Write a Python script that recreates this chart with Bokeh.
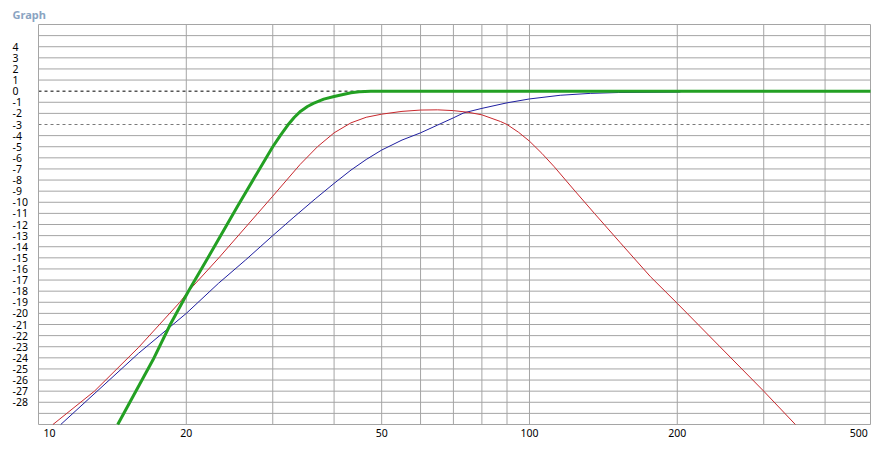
import math
from bokeh.plotting import figure
from bokeh.models import Range1d, ColumnDataSource
from bokeh.core.properties import value
from bokeh.embed import file_html
from bokeh.resources import INLINE

# ---- data (frequency in Hz, level in dB) ----
green_f = [14.5, 17.1, 18.55, 20.2, 22.0, 25.4, 30.0, 31.1, 32.2, 33.2, 34.2, 35.3, 36.3, 38.1, 40.0, 43.3,
           45.0, 47.5, 495.0]
green_db = [-30.0, -24.2, -21.0, -18.0, -15.2, -10.4, -5.0, -3.98, -3.05, -2.35, -1.8, -1.38, -1.1, -0.72, -0.48,
            -0.15, -0.06, 0.0, 0.0]

red_f = [10.7, 13.0, 16.0, 19.4, 20.2, 23.3, 30.0, 34.1, 37.0, 40.0, 43.3, 46.5, 50.0, 55.0, 60.0, 65.0, 70.0,
         75.0, 80.0, 87.3, 90.0, 95.0, 100.0, 106.0, 112.3, 123.3, 135.6, 152.8, 176.4, 200.0, 300.0, 348.0]
red_db = [-30.0, -27.0, -23.05, -19.0, -18.0, -15.0, -9.45, -6.6, -5.0, -3.75, -2.85, -2.35, -2.07, -1.82,
          -1.7, -1.68, -1.75, -1.9, -2.13, -2.73, -3.0, -3.7, -4.5, -5.6, -6.8, -8.9, -11.0, -13.6, -16.7,
          -19.1, -27.0, -30.0]

blue_f = [11.1, 15.98, 20.0, 23.25, 26.4, 30.0, 33.0, 36.6, 40.0, 43.3, 46.5, 50.0, 55.0, 60.0, 65.0, 70.0,
          73.5, 80.0, 90.0, 100.0, 115.5, 133.0, 152.0, 203.0]
blue_db = [-30.0, -23.6, -20.0, -17.3, -15.2, -13.0, -11.4, -9.7, -8.3, -7.1, -6.15, -5.3, -4.4, -3.75, -3.05,
           -2.4, -1.95, -1.55, -1.05, -0.7, -0.37, -0.2, -0.12, -0.08]

x_grid_ticks = [20, 30, 40, 50, 60, 70, 80, 90, 100, 200, 300, 400]
x_tick_vals = [10, 20, 50, 100, 200, 500]
x_tick_text = ["10", "20", "50", "100", "200", "500"]
y_tick_vals = list(range(4, -29, -1))
y_tick_text = [str(v) for v in y_tick_vals]
y_grid_ticks = [v for v in range(-29, 6) if v not in (0, -3)]
ref_levels = [0, -3]          # dashed reference levels (dB)
title_text = "Graph"

# ---- plot-box extent (data) and its place on the canvas (px) ----
F_MIN, F_MAX = 10.0, 495.0
DB_MIN, DB_MAX = -30.0, 6.0
W, H = 871, 450
BOX_L, BOX_R, BOX_T, BOX_B = 38, 870, 24, 424

px_per_dec = (BOX_R - BOX_L) / math.log10(F_MAX / F_MIN)
px_per_db = (BOX_B - BOX_T) / (DB_MAX - DB_MIN)
x_start = F_MIN * 10 ** (-BOX_L / px_per_dec)
x_end = F_MAX * 10 ** ((W - BOX_R) / px_per_dec)
y_top = DB_MAX + BOX_T / px_per_db
y_bot = DB_MIN - (H - BOX_B) / px_per_db

FONT = value("Noto Sans")
GRID = "#a5a5a5"

p = figure(width=W, height=H, x_axis_type="log",
           x_range=Range1d(x_start, x_end), y_range=Range1d(y_bot, y_top),
           output_backend="svg", toolbar_location=None,
           min_border_left=0, min_border_right=0, min_border_top=0, min_border_bottom=0)
p.axis.visible = False
p.grid.visible = False
p.outline_line_color = None
p.background_fill_color = "white"
p.border_fill_color = "white"

# grid lines inside the plot box
p.segment(x0=x_grid_ticks, x1=x_grid_ticks, y0=[DB_MIN] * len(x_grid_ticks), y1=[DB_MAX] * len(x_grid_ticks),
          line_color=GRID, line_width=1)
p.segment(x0=[F_MIN] * len(y_grid_ticks), x1=[F_MAX] * len(y_grid_ticks), y0=y_grid_ticks, y1=y_grid_ticks,
          line_color=GRID, line_width=1)
p.segment(x0=[F_MIN], x1=[F_MAX], y0=[ref_levels[0]], y1=[ref_levels[0]],
          line_color="black", line_dash="3 3", line_width=1)
p.segment(x0=[F_MIN], x1=[F_MAX], y0=[ref_levels[1]], y1=[ref_levels[1]],
          line_color="#7a7a7a", line_dash="3 3", line_width=1)
# plot box border
p.quad(left=[F_MIN], right=[F_MAX], bottom=[DB_MIN], top=[DB_MAX], fill_color=None,
       line_color=GRID, line_width=1)

# curves
p.line(blue_f, blue_db, line_color="#1f1fa0", line_width=1)
p.line(red_f, red_db, line_color="#c8282d", line_width=1)
p.line(green_f, green_db, line_color="#23a023", line_width=3, line_join="round")

# y tick labels, left aligned
ysrc = ColumnDataSource(dict(x=[F_MIN] * len(y_tick_vals), y=y_tick_vals, text=y_tick_text))
p.text(x="x", y="y", text="text", source=ysrc, x_offset=-26, text_align="left",
       text_baseline="middle", text_font=FONT, text_font_size="10.5px", text_color="black")

# x tick labels
xsrc = ColumnDataSource(dict(x=x_tick_vals, y=[DB_MIN] * len(x_tick_vals), text=x_tick_text,
                             align=["left", "center", "center", "center", "center", "right"],
                             off=[5, 0, 0, 0, 0, -5]))
p.text(x="x", y="y", text="text", source=xsrc, x_offset="off", y_offset=8, text_align="align",
       text_baseline="middle", text_font=FONT, text_font_size="10.5px", text_color="black")

# panel title
p.text(x=[F_MIN], y=[DB_MAX], text=[title_text], x_offset=-26, y_offset=-9.7, text_align="left",
       text_baseline="alphabetic", text_font=FONT, text_font_size="11px", text_font_style="bold",
       text_color="#8aa4c2")

open("out.html", "w").write(file_html(p, INLINE))
